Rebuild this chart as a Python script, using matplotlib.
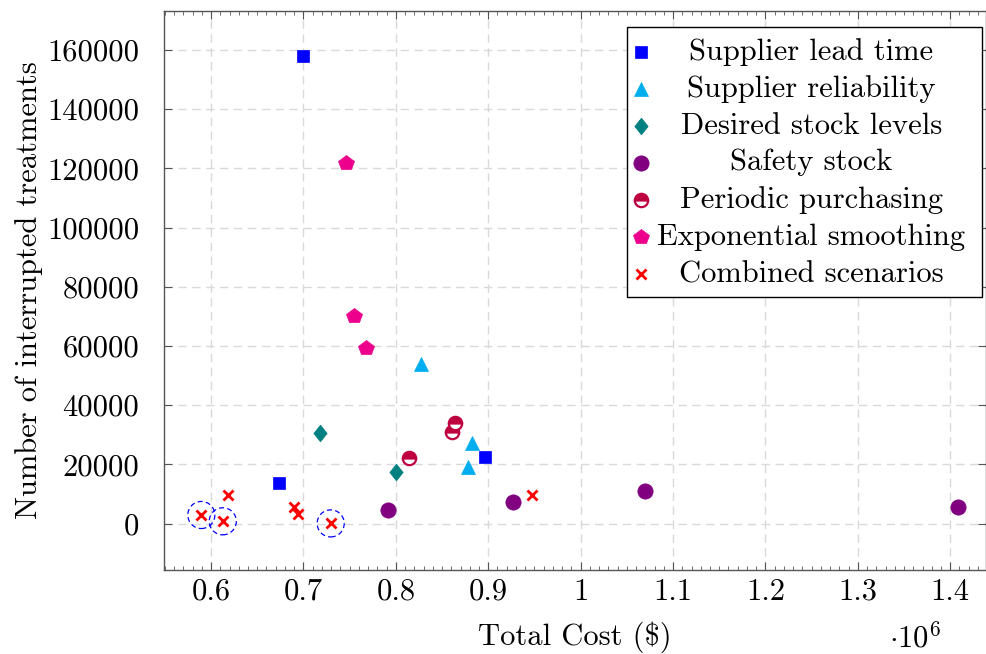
import matplotlib
matplotlib.use("Agg")
import matplotlib.pyplot as plt
from matplotlib.ticker import MultipleLocator, FuncFormatter
import numpy as np

plt.rcParams['font.family'] = ['cmr10', 'DejaVu Serif']
plt.rcParams['mathtext.fontset'] = 'cm'
plt.rcParams['axes.unicode_minus'] = False
plt.rcParams['axes.formatter.use_mathtext'] = True

# ---- data (total cost in $, interrupted treatments) ----
lead_x = [0.700e6, 0.674e6, 0.8965e6]
lead_y = [158000, 13850, 22430]

rel_x = [0.827e6, 0.8828e6, 0.8785e6]
rel_y = [53850, 27360, 19250]

stock_x = [0.718e6, 0.8005e6]
stock_y = [30540, 17570]

safety_x = [0.7919e6, 0.9265e6, 1.0697e6, 1.4084e6]
safety_y = [4630, 7330, 11150, 5640]

periodic_x = [0.864e6, 0.8605e6, 0.814e6]
periodic_y = [34120, 30870, 22190]

expo_x = [0.7458e6, 0.7548e6, 0.7677e6]
expo_y = [121950, 70260, 59450]

comb_x = [0.5895e6, 0.6127e6, 0.618e6, 0.6898e6, 0.6945e6, 0.7295e6, 0.9474e6]
comb_y = [2940, 810, 9800, 5540, 3180, 100, 9590]
highlight_idx = [0, 1, 5]

labels = ["Supplier lead time", "Supplier reliability", "Desired stock levels",
          "Safety stock", "Periodic purchasing", "Exponential smoothing",
          "Combined scenarios"]

x_ticks = [0.6e6, 0.7e6, 0.8e6, 0.9e6, 1.0e6, 1.1e6, 1.2e6, 1.3e6, 1.4e6]
y_ticks = [0, 20000, 40000, 60000, 80000, 100000, 120000, 140000, 160000]

# ---- figure ----
W, H = 987, 654
FS = 22
fig = plt.figure(figsize=(W / 100, H / 100), dpi=100)
L, R, T, B = 164, 986, 10.5, 569.5
ax = fig.add_axes([L / W, 1 - B / H, (R - L) / W, (B - T) / H])

BLUE = '#0000ff'
CYAN = '#00aeef'
TEAL = '#008080'
VIOLET = '#800080'
CRIMSON = '#bf0040'
MAGENTA = '#ec008c'
RED = '#ff0000'

diamond = [(0, 1), (0.8, 0), (0, -1), (-0.8, 0), (0, 1)]

styles = [
    dict(marker='s', color=BLUE, ms=8.6, mec=BLUE, mew=0.5),
    dict(marker='^', color=CYAN, ms=10.5, mec=CYAN, mew=0.5),
    dict(marker=diamond, color=TEAL, ms=12, mec=TEAL, mew=0.5),
    dict(marker='o', color=VIOLET, ms=11, mec=VIOLET, mew=0.5),
    dict(marker='o', color=CRIMSON, ms=9.6, mec=CRIMSON, mew=1.6,
         fillstyle='top', markerfacecoloralt='white'),
    dict(marker='p', color=MAGENTA, ms=11.4, mec=MAGENTA, mew=0.5),
    dict(marker='x', color=RED, ms=7, mec=RED, mew=2.0),
]
series = [(lead_x, lead_y), (rel_x, rel_y), (stock_x, stock_y),
          (safety_x, safety_y), (periodic_x, periodic_y),
          (expo_x, expo_y), (comb_x, comb_y)]

for (xs, ys), st in zip(series, styles):
    ax.plot(xs, ys, linestyle='none', zorder=3, **st)

hx = [comb_x[i] for i in highlight_idx]
hy = [comb_y[i] for i in highlight_idx]
ax.scatter(hx, hy, s=19.5 ** 2, facecolors='none', edgecolors=BLUE,
           linewidths=0.9, linestyle=(0, (4.0, 2.6)), zorder=4)

# ---- axes ----
ax.set_xlim(0.5491e6, 1.4387e6)
ax.set_ylim(-15470, 173340)
ax.set_xticks(x_ticks)
ax.set_yticks(y_ticks)
ax.xaxis.set_minor_locator(MultipleLocator(0.01e6))
ax.xaxis.set_major_formatter(FuncFormatter(lambda v, p: f"{v / 1e6:g}"))
ax.yaxis.set_major_formatter(FuncFormatter(lambda v, p: f"{int(round(v))}"))

spine_col = '#555555'
for s in ax.spines.values():
    s.set_color(spine_col)
    s.set_linewidth(1.0)

ax.tick_params(axis='both', which='both', direction='in', colors=spine_col,
               labelcolor='black', labelsize=FS)
ax.tick_params(axis='x', which='major', top=True, length=6, width=0.8, pad=6.5)
ax.tick_params(axis='x', which='minor', top=True, length=3.2, width=0.6)
ax.tick_params(axis='y', which='major', right=True, length=6, width=0.8, pad=18)

ax.grid(True, which='major', color='#d9d9d9', linewidth=1.0,
        linestyle=(0, (6, 4)), zorder=0)
ax.set_axisbelow(True)

ax.set_xlabel("Total Cost ($)", fontsize=FS, labelpad=11)
ax.set_ylabel("Number of interrupted treatments", fontsize=FS, labelpad=3)
ax.text(915 / W, 1 - 638 / H, r"$\cdot 10^{6}$", transform=fig.transFigure,
        fontsize=FS, ha='center', va='center')

# ---- legend (drawn by hand, centred text like pgfplots) ----
def axfrac(px, py):
    return ((px - L) / (R - L), (B - py) / (B - T))

x0, y0 = axfrac(626.7, 296.7)
x1, y1 = axfrac(982, 26.7)
ax.add_patch(plt.Rectangle((x0, y0), x1 - x0, y1 - y0, transform=ax.transAxes,
                           facecolor='white', edgecolor='black', linewidth=1.0,
                           zorder=6, clip_on=False))
row_y = [51.7, 88.6, 125.8, 162.7, 200.0, 237.4, 274.3]
for lab, st, ry in zip(labels, styles, row_y):
    mx, my = axfrac(641, ry)
    ax.plot([mx], [my], transform=ax.transAxes, linestyle='none', zorder=7,
            clip_on=False, **st)
    tx, ty = axfrac(811.5, ry)
    ax.text(tx, ty, lab, transform=ax.transAxes, ha='center', va='center',
            fontsize=FS, zorder=7)

fig.savefig("out.png", dpi=100)
